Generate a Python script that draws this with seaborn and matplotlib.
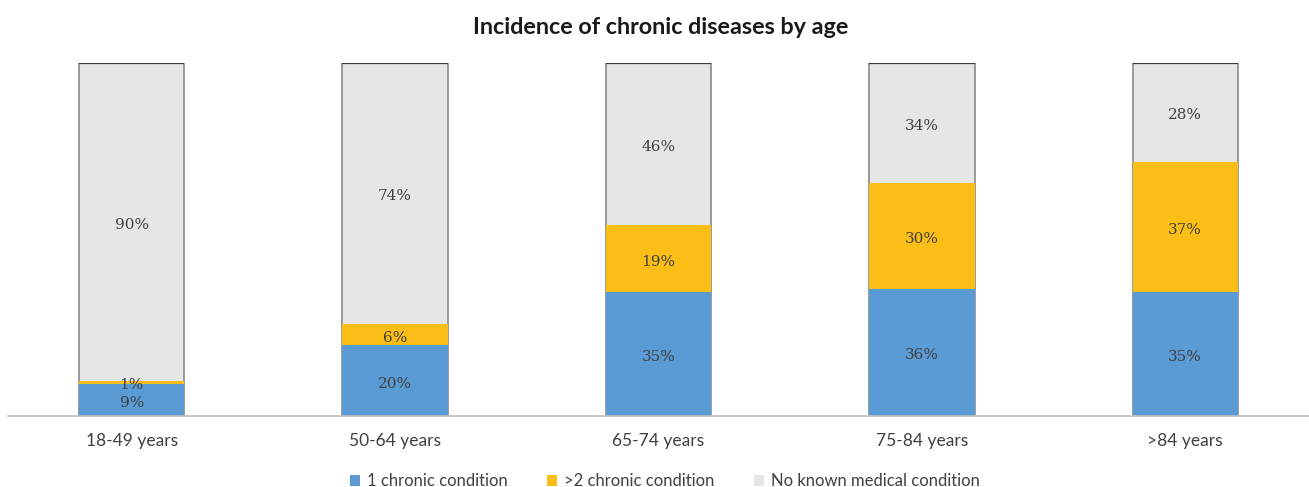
import matplotlib
matplotlib.use("Agg")
import matplotlib.pyplot as plt
import seaborn as sns
import numpy as np
import pandas as pd
from matplotlib.patches import Patch

# Data
age_groups = ["18-49 years", "50-64 years", "65-74 years", "75-84 years", ">84 years"]
one_chronic = [9, 20, 35, 36, 35]
two_plus_chronic = [1, 6, 19, 30, 37]
no_condition = [90, 74, 46, 34, 28]
series_names = ["1 chronic condition", ">2 chronic condition", "No known medical condition"]

colors = ["#5B9BD5", "#FBBE16", "#E6E6E6"]
text_color = "#404040"

sns.set_theme(style="white")
plt.rcParams["font.family"] = ["Lato", "DejaVu Sans"]

one = np.array(one_chronic)
two = np.array(two_plus_chronic)
none_ = np.array(no_condition)
cum1 = one
cum2 = one + two
cum3 = one + two + none_

df = pd.DataFrame({"age": age_groups, "c1": cum1, "c2": cum2, "c3": cum3})

fig = plt.figure(figsize=(13.09, 4.87), dpi=100)
ax = fig.add_axes([8 / 1309, 71 / 487, 1301 / 1309, 353 / 487])

bar_w = 0.4
# stacked layers drawn from the full total down to the first segment
sns.barplot(data=df, x="age", y="c3", color=colors[2], width=bar_w, ax=ax,
            saturation=1, edgecolor="#8A8A8A", linewidth=1.2)
sns.barplot(data=df, x="age", y="c2", color=colors[1], width=bar_w, ax=ax,
            saturation=1, linewidth=0)
sns.barplot(data=df, x="age", y="c1", color=colors[0], width=bar_w, ax=ax,
            saturation=1, linewidth=0)

# darker rim on the top of each column
xs = np.arange(len(age_groups))
ax.hlines(cum3, xs - bar_w / 2, xs + bar_w / 2, color="#3A3A3A", lw=1.6, zorder=5)

# segment labels
for i in range(len(age_groups)):
    bottoms = [0, cum1[i], cum2[i]]
    vals = [one[i], two[i], none_[i]]
    for b, v in zip(bottoms, vals):
        ax.text(i, b + v / 2 - 0.8, f"{v}%", ha="center", va="center",
                fontsize=11, color=text_color, family=["DejaVu Serif"], zorder=6)

ax.set_xlim(-0.47, 4.47)
ax.set_ylim(0, 100)
ax.set_xlabel("")
ax.set_ylabel("")
ax.set_yticks([])
ax.tick_params(axis="x", length=0, pad=12, labelsize=12.5, labelcolor=text_color)
for s in ["top", "left", "right"]:
    ax.spines[s].set_visible(False)
ax.spines["bottom"].set_color("#BFBFBF")
ax.spines["bottom"].set_linewidth(1.2)

fig.text(0.505, 0.943, "Incidence of chronic diseases by age", ha="center", va="center",
         fontsize=16.8, fontweight="bold", color="#1A1A1A")

handles = [Patch(facecolor=c, edgecolor="none") for c in colors]
fig.legend(handles, series_names, loc="center", bbox_to_anchor=(0.508, 0.012),
           ncol=3, frameon=False, handlelength=0.6, handleheight=0.6,
           handletextpad=0.4, columnspacing=2.4, fontsize=12,
           labelcolor=text_color)

fig.savefig("out.png", dpi=100)
